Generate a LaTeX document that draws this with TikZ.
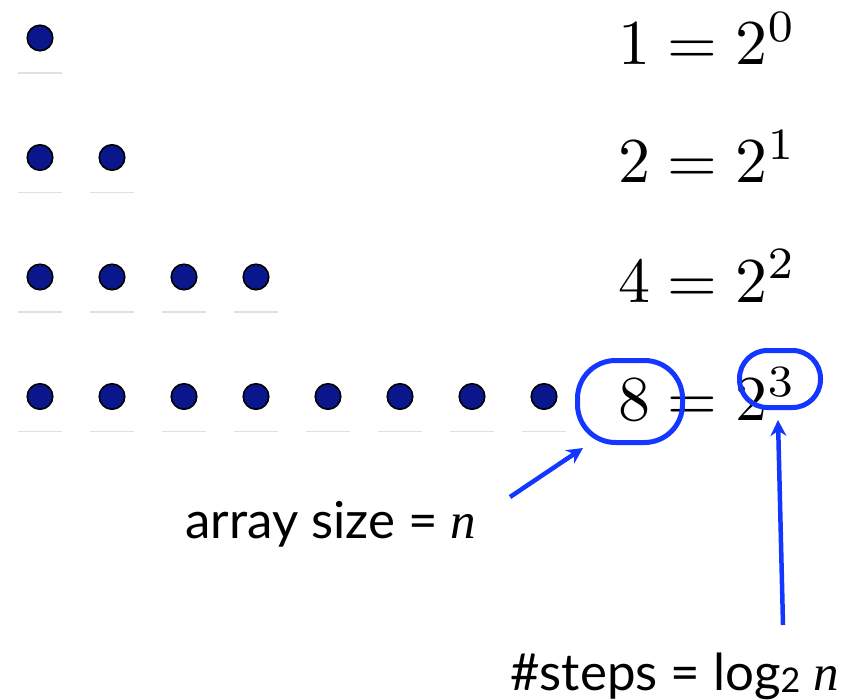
\documentclass[tikz,border=0pt]{standalone}
\usepackage[no-math]{fontspec}
\setmainfont{Lato}
\newfontfamily\serifit{Liberation Serif}
\usepackage{amsmath}
\usetikzlibrary{arrows.meta,positioning}

\definecolor{penblue}{RGB}{20,55,255}
\definecolor{dotnavy}{RGB}{10,22,140}
\newcommand{\bigeq}[1]{\scalebox{6.4}{$#1$}}

\begin{document}
\begin{tikzpicture}[x=1pt,y=-1pt,
    dotnode/.style={circle,draw=black,line width=1.6pt,fill=dotnavy,minimum size=25.5pt,inner sep=0pt},
    eqn/.style={anchor=base west,inner sep=0pt},
    note/.style={anchor=base west,inner sep=0pt,font=\fontsize{51}{56}\selectfont},
    ring/.style={draw=penblue,line width=5pt,inner sep=0pt},
    pointer/.style={draw=penblue,line width=4.5pt,-{Stealth[length=16pt,width=16pt]}}]
  \useasboundingbox (0,0) rectangle (853,700);

  % rows of dots
  \foreach \r/\k in {0/1,1/2,2/4,3/8} {
    \foreach \i in {1,...,\k} {
      \node[dotnode] (dot-\r-\i) at ({40+72*(\i-1)},{38+119.5*\r}) {};
      \draw[black!12,line width=1.2pt] ([xshift=-22pt,yshift=-35pt]dot-\r-\i.center) -- ([xshift=22pt,yshift=-35pt]dot-\r-\i.center);
    }
  }

  \node[eqn] (eq0) at (618,65) {\bigeq{1=2^0}};
  \node[eqn] (eq1) at (618,183) {\bigeq{2=2^1}};
  \node[eqn] (eq2) at (618,302) {\bigeq{4=2^2}};
  \node[eqn] (eq3) at (618,420) {\bigeq{8=2^3}};

  \node[ring,minimum width=105pt,minimum height=82pt,rounded corners=38pt] (ring8) at (630,401.5) {};
  \node[ring,minimum width=81pt,minimum height=57pt,rounded corners=28pt] (ring3) at (780,379) {};

  \node[note] (size) at (185,538) {array size = {\serifit\itshape n}};
  \node[note] (steps) at (510,690) {\#steps = log{\raisebox{-2pt}{\fontsize{34}{34}\selectfont 2}} {\serifit\itshape n}};

  \coordinate (size-tip) at (510,497);
  \coordinate (ring8-in) at (583,448);
  \coordinate (steps-tip) at (783,625);
  \coordinate (ring3-in) at (778,420);
  \draw[pointer] (size-tip) -- (ring8-in);
  \draw[pointer] (steps-tip) -- (ring3-in);
\end{tikzpicture}
\end{document}
